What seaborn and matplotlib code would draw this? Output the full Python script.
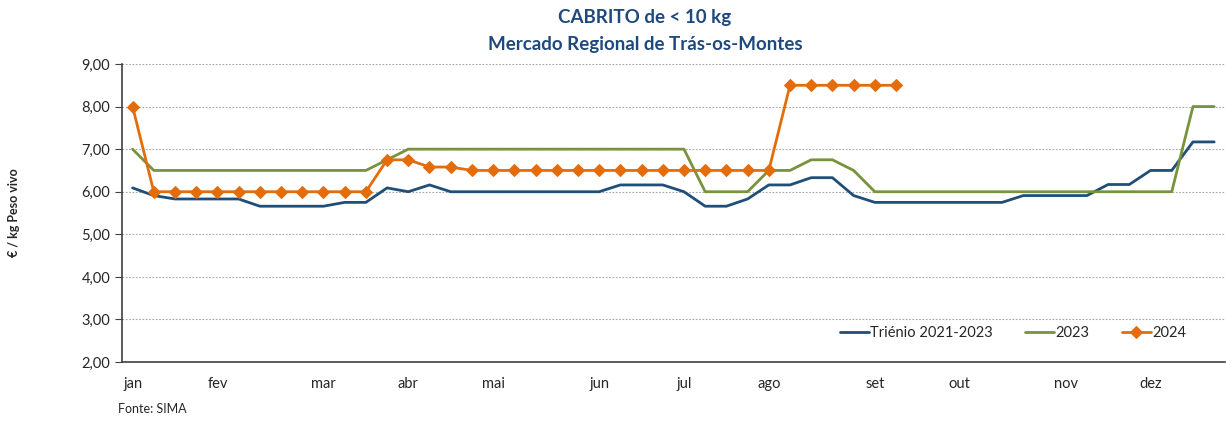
import numpy as np
import pandas as pd
import matplotlib
matplotlib.use("Agg")
import matplotlib.pyplot as plt
from matplotlib.ticker import FuncFormatter, FixedLocator
import seaborn as sns

# weekly prices (EUR / kg live weight), week 1..52
trienio = [6.09, 5.91, 5.83, 5.83, 5.83, 5.83, 5.66, 5.66, 5.66, 5.66, 5.75, 5.75,
           6.09, 6.00, 6.16, 6.00, 6.00, 6.00, 6.00, 6.00, 6.00, 6.00, 6.00, 6.16,
           6.16, 6.16, 6.00, 5.66, 5.66, 5.83, 6.16, 6.16, 6.33, 6.33, 5.91, 5.75,
           5.75, 5.75, 5.75, 5.75, 5.75, 5.75, 5.91, 5.91, 5.91, 5.91, 6.17, 6.17,
           6.50, 6.50, 7.17, 7.17]
ano_2023 = [7.00, 6.50, 6.50, 6.50, 6.50, 6.50, 6.50, 6.50, 6.50, 6.50, 6.50, 6.50,
            6.75, 7.00, 7.00, 7.00, 7.00, 7.00, 7.00, 7.00, 7.00, 7.00, 7.00, 7.00,
            7.00, 7.00, 7.00, 6.00, 6.00, 6.00, 6.50, 6.50, 6.75, 6.75, 6.50, 6.00,
            6.00, 6.00, 6.00, 6.00, 6.00, 6.00, 6.00, 6.00, 6.00, 6.00, 6.00, 6.00,
            6.00, 6.00, 8.00, 8.00]
ano_2024 = [8.00, 6.00, 6.00, 6.00, 6.00, 6.00, 6.00, 6.00, 6.00, 6.00, 6.00, 6.00,
            6.75, 6.75, 6.58, 6.58, 6.50, 6.50, 6.50, 6.50, 6.50, 6.50, 6.50, 6.50,
            6.50, 6.50, 6.50, 6.50, 6.50, 6.50, 6.50, 8.50, 8.50, 8.50, 8.50, 8.50,
            8.50]

month_labels = ["jan", "fev", "mar", "abr", "mai", "jun", "jul", "ago", "set", "out", "nov", "dez"]
month_weeks = [0, 4, 9, 13, 17, 22, 26, 30, 35, 39, 44, 48]

df = pd.DataFrame({"semana": np.arange(len(trienio)), "trienio": trienio, "ano_2023": ano_2023})
df24 = pd.DataFrame({"semana": np.arange(len(ano_2024)), "ano_2024": ano_2024})

sns.set_style("white")
plt.rcParams["font.family"] = ["Lato", "DejaVu Sans"]

fig = plt.figure(figsize=(12.26, 4.21), dpi=100)
ax = fig.add_axes([0.0995, 0.14, 0.8995, 0.708])

sns.lineplot(data=df, x="semana", y="trienio", color="#1F4E79", linewidth=2.0,
             label="Triénio 2021-2023", ax=ax)
sns.lineplot(data=df, x="semana", y="ano_2023", color="#77933C", linewidth=2.0,
             label="2023", ax=ax)
sns.lineplot(data=df24, x="semana", y="ano_2024", color="#E46C0A", linewidth=2.0,
             marker="D", markersize=6, markeredgecolor="#E46C0A", label="2024", ax=ax)

ax.set_xlim(-0.5, 51.5)
ax.set_ylim(2, 9)
ax.set_yticks(np.arange(2, 10, 1))
ax.yaxis.set_major_formatter(FuncFormatter(lambda v, p: f"{v:.2f}".replace(".", ",")))
ax.grid(axis="y", color="#A6A6A6", linestyle=(0, (1.5, 1.5)), linewidth=0.8)
ax.grid(axis="x", visible=False)

ax.set_xticks(month_weeks)
ax.set_xticklabels(month_labels)
ax.xaxis.set_minor_locator(FixedLocator(np.arange(-0.5, 52, 1)))
ax.tick_params(axis="x", which="major", length=0, pad=11, labelsize=10.5)
ax.tick_params(axis="x", which="minor", direction="in", length=4, width=0.8, color="#404040")
ax.tick_params(axis="y", which="major", direction="out", length=5, width=0.8,
               color="#404040", labelsize=10.5, left=True)

for side in ["top", "right"]:
    ax.spines[side].set_visible(False)
for side in ["left", "bottom"]:
    ax.spines[side].set_color("#404040")
    ax.spines[side].set_linewidth(1.2)

ax.set_xlabel("")
ax.set_ylabel("€ / kg Peso vivo", fontsize=9, fontweight="bold", labelpad=44)

leg = ax.legend(loc="center", bbox_to_anchor=(0.808, 0.097), ncol=3, frameon=False,
                fontsize=10.5, handlelength=2.0, columnspacing=2.2, handletextpad=0.1)

fig.text(0.526, 0.958, "CABRITO de < 10 kg", ha="center", va="center",
         fontsize=13.5, fontweight="bold", color="#1F497D")
fig.text(0.526, 0.895, "Mercado Regional de Trás-os-Montes", ha="center", va="center",
         fontsize=13.5, fontweight="bold", color="#1F497D")
fig.text(0.096, 0.028, "Fonte: SIMA", ha="left", va="center", fontsize=9)

fig.savefig("out.png", dpi=100)
